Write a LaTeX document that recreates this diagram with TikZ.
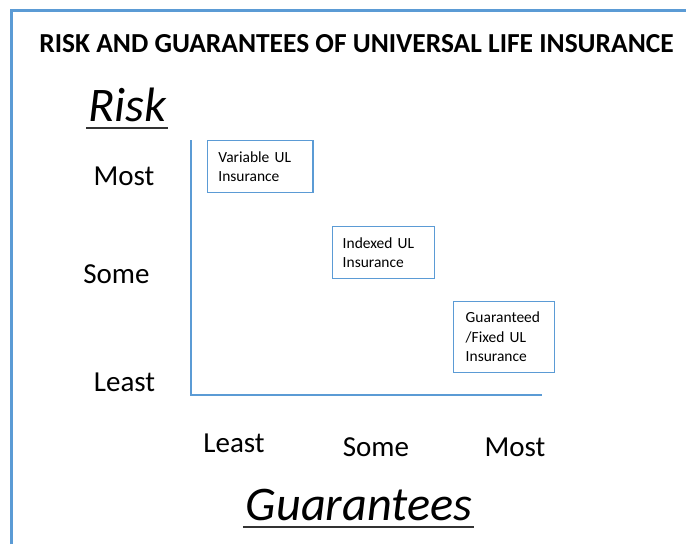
\documentclass[tikz,border=0pt]{standalone}
\usepackage{fontspec}
\setmainfont{Carlito}
\definecolor{ulblue}{RGB}{91,155,213}

\begin{document}
\begin{tikzpicture}[
  x = 0.75pt, y = -0.75pt,
  every node/.style = {inner sep = 0pt},
  heading/.style = {anchor = base, font = \bfseries\fontsize{20.6}{24}\selectfont},
  axisname/.style = {anchor = base, font = \itshape\fontsize{36.2}{43}\selectfont},
  grade/.style = {anchor = base, font = \fontsize{21.75}{26}\selectfont},
  plan/.style = {draw = ulblue, line width = 1.1pt, anchor = north west,
                 align = left, minimum height = 39pt,
                 font = \fontsize{11.6}{14.5}\selectfont},
  underbar/.style = {line width = 1.6pt, draw = black!80},
  axis/.style = {draw = ulblue, line width = 1.5pt},
  frame/.style = {draw = ulblue, line width = 2.25pt},
  ]
  \useasboundingbox (0,0) rectangle (686,544);
  \draw[frame] (11.5,544) -- (11.5,10) -- (686,10);

  \node[heading] (title) at (356.5,52.7) {RISK AND GUARANTEES OF UNIVERSAL LIFE INSURANCE};

  \node[axisname] (risk) at (127.5,121) {Risk};
  \draw[underbar] ([xshift=-1.5pt,yshift=-5pt]risk.base west) -- ([xshift=1pt,yshift=-5pt]risk.base east);
  \node[axisname] (guar) at (359,520) {Guarantees};
  \draw[underbar] ([xshift=-2pt,yshift=-5pt]guar.base west) -- ([xshift=1.5pt,yshift=-5pt]guar.base east);

  \node[grade] (riskmost)  at (124,185)   {Most};
  \node[grade] (risksome)  at (116.4,283.3) {Some};
  \node[grade] (riskleast) at (124.5,391.7) {Least};
  \node[grade] (guarleast) at (234,452)   {Least};
  \node[grade] (guarsome)  at (376,456.7) {Some};
  \node[grade] (guarmost)  at (515,456.7) {Most};

  \coordinate (ytop)   at (191,140);
  \coordinate (origin) at (191,394.5);
  \coordinate (xend)   at (542,394.5);
  \draw[axis] (ytop) -- (origin) -- (xend);

  \node[plan, inner xsep = 8pt, text width = 63pt] (variable) at (207,140)
    {Variable UL\\Insurance};
  \node[plan, inner xsep = 7.5pt, text width = 61.5pt] (indexed) at (332,226)
    {Indexed UL\\Insurance};
  \node[plan, inner xsep = 9pt, text width = 57.75pt, minimum height = 53.25pt] (fixed) at (453,300.5)
    {Guaranteed\\/Fixed UL\\Insurance};
\end{tikzpicture}
\end{document}
